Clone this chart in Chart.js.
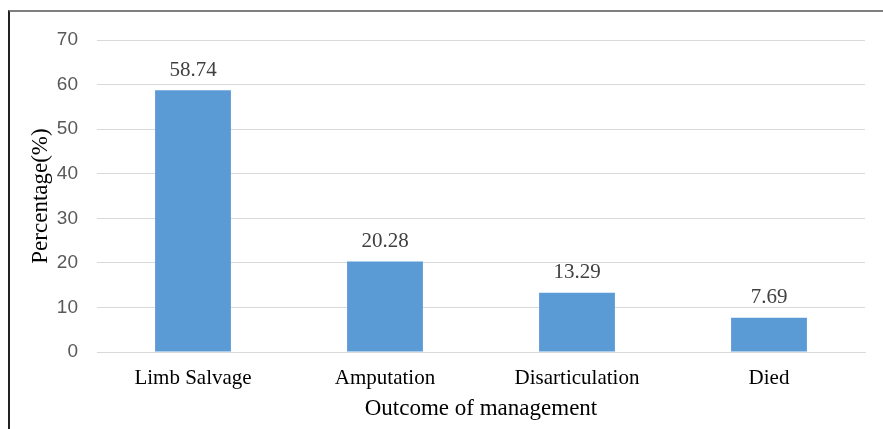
<!DOCTYPE html>
<html>
<head>
<meta charset="utf-8">
<script src="https://cdn.jsdelivr.net/npm/chart.js@4"></script>
<style>
  html, body { margin: 0; padding: 0; background: #fff; }
  #wrap { position: relative; width: 883px; height: 429px; overflow: hidden; }
  #frame { position: absolute; left: 8px; top: 10px; right: -4px; bottom: -4px;
           border-top: 2px solid #7f7f7f; border-left: 2px solid #222; box-sizing: border-box; }
  canvas { position: absolute; left: 0; top: 0; }
</style>
</head>
<body>
<div id="wrap">
  <canvas id="chart" width="883" height="429"></canvas>
  <div id="frame"></div>
</div>
<script>
// Outcome of management, percentage of patients
const categories = ['Limb Salvage', 'Amputation', 'Disarticulation', 'Died'];
const percentages = [58.74, 20.28, 13.29, 7.69];
const yTicks = [0, 10, 20, 30, 40, 50, 60, 70];

const serif = "'Liberation Serif', 'Times New Roman', serif";

// Writes each bar's value above it
const valueLabels = {
  id: 'valueLabels',
  afterDatasetsDraw(chart) {
    const { ctx } = chart;
    const meta = chart.getDatasetMeta(0);
    const ys = chart.scales.y;
    ctx.save();
    ctx.font = '21px ' + serif;
    ctx.fillStyle = '#404040';
    ctx.textAlign = 'center';
    ctx.textBaseline = 'middle';
    meta.data.forEach((bar, i) => {
      const v = chart.data.datasets[0].data[i];
      ctx.fillText(v.toFixed(2), bar.x, ys.getPixelForValue(v) - 20);
    });
    ctx.restore();
  }
};

new Chart(document.getElementById('chart'), {
  type: 'bar',
  data: {
    labels: categories,
    datasets: [{
      data: percentages,
      backgroundColor: '#5b9bd5',
      borderWidth: 0,
      barPercentage: 0.395,
      categoryPercentage: 1.0
    }]
  },
  options: {
    responsive: false,
    animation: false,
    devicePixelRatio: 1,
    layout: { padding: { left: 0, right: 18, top: 40, bottom: 0 } },
    plugins: { legend: { display: false }, tooltip: { enabled: false } },
    scales: {
      x: {
        grid: { display: false, drawTicks: false },
        border: { display: true, color: '#d9d9d9', width: 1 },
        ticks: { color: '#000', font: { family: serif, size: 21 }, padding: 14 },
        title: { display: true, text: 'Outcome of management', color: '#000',
                 font: { family: serif, size: 23 }, padding: { top: 0, bottom: 6 } },
        afterFit(s) { s.height = 77; }
      },
      y: {
        min: 0, max: 70,
        afterBuildTicks(s) { s.ticks = yTicks.map(v => ({ value: v })); },
        grid: { color: '#d9d9d9', lineWidth: 1, drawTicks: false },
        border: { display: false },
        ticks: { color: '#595959', font: { family: "'Liberation Sans', Arial, sans-serif", size: 19 }, padding: 19 },
        title: { display: true, text: 'Percentage(%)', color: '#000',
                 font: { family: serif, size: 23 }, padding: { top: 27, bottom: 0 } },
        afterFit(s) { s.width = 97; }
      }
    }
  },
  plugins: [valueLabels]
});
</script>
</body>
</html>
